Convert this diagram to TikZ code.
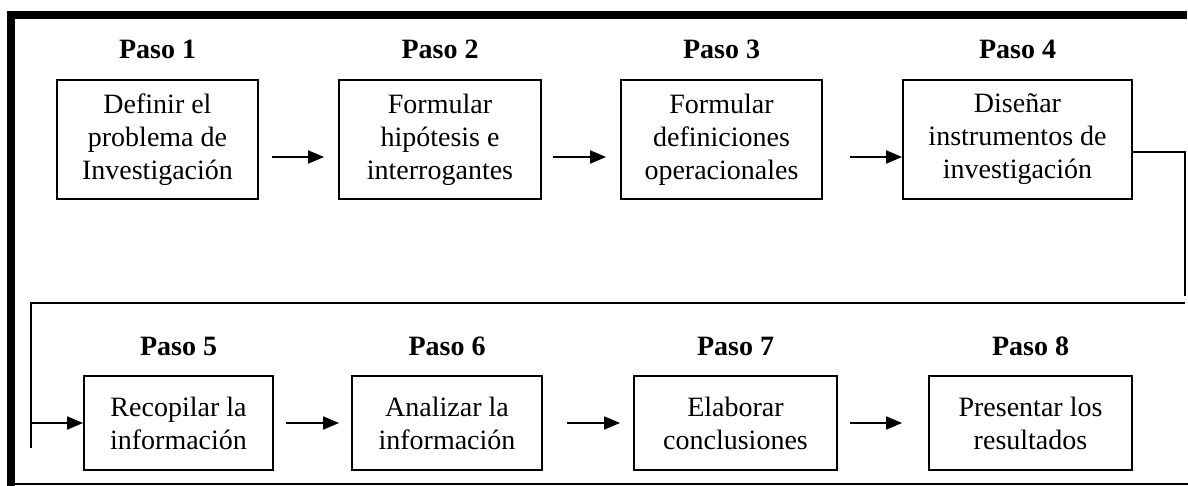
\documentclass[tikz,border=0pt]{standalone}
\usepackage{fontspec}
\setmainfont{Liberation Serif}
\usetikzlibrary{positioning,arrows.meta}
\tikzset{
  box/.style={draw, line width=1.8pt, align=center, inner sep=0pt, font=\fontsize{28}{33}\selectfont},
  paso/.style={font=\bfseries\fontsize{28}{33}\selectfont, inner sep=0pt},
  arr/.style={line width=1.8pt, -{Triangle[length=16pt,width=13pt]}},
  link/.style={line width=1.8pt}
}
\begin{document}
\begin{tikzpicture}[x=1pt,y=-1pt]
  \useasboundingbox (0,0) rectangle (1188,486);
  % marco
  \fill (7,11) rectangle (1187,19);
  \fill (7,11) rectangle (15,486);
  \draw[line width=2pt] (15,484) -- (1188,484);

  % fila 1
  \node[box, minimum width=201, minimum height=119] (b1) at (157.5,139.5) {Definir el\\problema de\\Investigación};
  \node[box, minimum width=202, minimum height=119] (b2) at (440,139.5) {Formular\\hipótesis e\\interrogantes};
  \node[box, minimum width=201, minimum height=119] (b3) at (721.5,139.5) {Formular\\definiciones\\operacionales};
  \node[box, minimum width=229, minimum height=119] (b4) at (1017.5,139.5) {Diseñar\\instrumentos de\\investigación};

  % fila 2
  \node[box, minimum width=189, minimum height=94] (b5) at (178.5,423) {Recopilar la\\información};
  \node[box, minimum width=190, minimum height=94] (b6) at (447,423) {Analizar la\\información};
  \node[box, minimum width=203, minimum height=94] (b7) at (735.5,423) {Elaborar\\conclusiones};
  \node[box, minimum width=203, minimum height=94] (b8) at (1030.5,423) {Presentar los\\resultados};

  \node[paso, above=20pt of b1] (p1) {Paso 1};
  \node[paso, above=20pt of b2] (p2) {Paso 2};
  \node[paso, above=20pt of b3] (p3) {Paso 3};
  \node[paso, above=20pt of b4] (p4) {Paso 4};
  \node[paso, above=19pt of b5] (p5) {Paso 5};
  \node[paso, above=19pt of b6] (p6) {Paso 6};
  \node[paso, above=19pt of b7] (p7) {Paso 7};
  \node[paso, above=19pt of b8] (p8) {Paso 8};

  \draw[arr] ([xshift=13pt,yshift=-17.5pt]b1.east) -- ([xshift=-14pt,yshift=-17.5pt]b2.west);
  \draw[arr] ([xshift=11pt,yshift=-17.5pt]b2.east) -- ([xshift=-14pt,yshift=-17.5pt]b3.west);
  \draw[arr] ([xshift=27pt,yshift=-17.5pt]b3.east) -- ([yshift=-17.5pt]b4.west);

  \draw[arr] ([xshift=12pt]b5.east) -- ([xshift=-12pt]b6.west);
  \draw[arr] ([xshift=24pt]b6.east) -- ([xshift=-13pt]b7.west);
  \draw[arr] ([xshift=12pt]b7.east) -- ([xshift=-26pt]b8.west);

  % vuelta de la fila 1 a la fila 2
  \coordinate (r1) at (1185,152);
  \coordinate (r2) at (1185,296);
  \coordinate (l1) at (1185,303);
  \coordinate (l2) at (31,303);
  \coordinate (l3) at (31,448);
  \coordinate (l4) at (31,423);
  \draw[link] (b4.east |- r1) -- (r1) -- (r2);
  \draw[link] (l1) -- (l2) -- (l3);
  \draw[arr] (l4) -- (b5.west);
\end{tikzpicture}
\end{document}
